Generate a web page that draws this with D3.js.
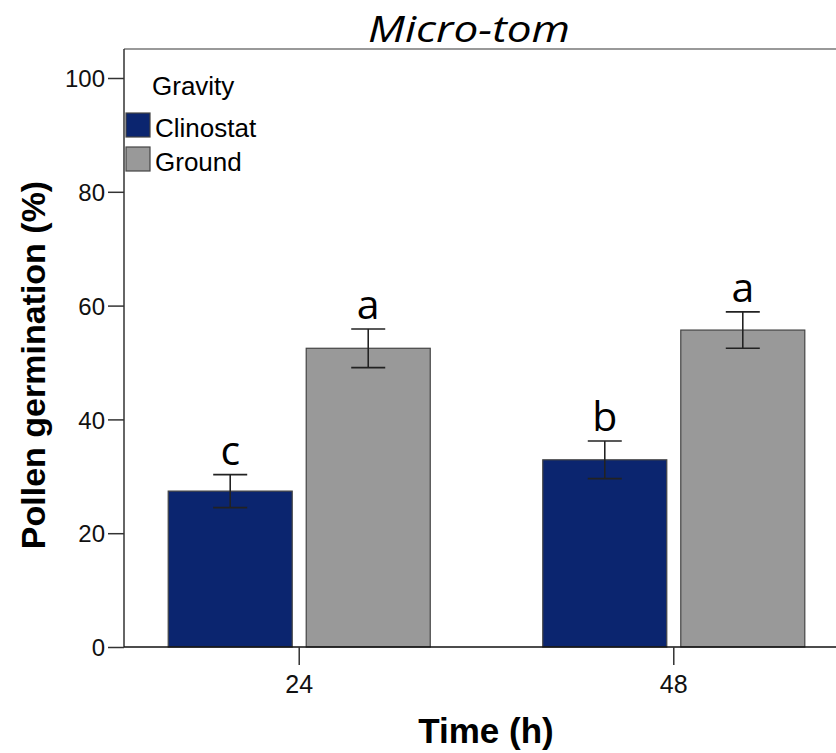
<!DOCTYPE html>
<html>
<head>
<meta charset="utf-8">
<script src="https://cdn.jsdelivr.net/npm/d3@7"></script>
<style>
  body { margin: 0; background: #fff; }
  svg { display: block; }
</style>
</head>
<body>
<div id="chart"></div>
<script>
// data
var times = ["24", "48"];
var groups = ["Clinostat", "Ground"];
var clinostat = [27.4, 32.9];
var ground = [52.5, 55.7];
var clinostatErr = [2.9, 3.3];
var groundErr = [3.4, 3.2];
var clinostatLetters = ["c", "b"];
var groundLetters = ["a", "a"];
var yTicks = [0, 20, 40, 60, 80, 100];
var colors = { "Clinostat": "#0b256f", "Ground": "#999999" };

var width = 836, height = 753;

var data = [];
for (var i = 0; i < times.length; i++) {
  data.push({ time: times[i], group: "Clinostat", value: clinostat[i], err: clinostatErr[i], letter: clinostatLetters[i] });
  data.push({ time: times[i], group: "Ground", value: ground[i], err: groundErr[i], letter: groundLetters[i] });
}

var svg = d3.select("#chart").append("svg")
  .attr("width", width)
  .attr("height", height);

var plotLeft = 124, plotRight = 849, plotTop = 49, plotBottom = 647;

var x0 = d3.scaleBand().domain(times).range([plotLeft, plotRight])
  .paddingInner(0.3004).paddingOuter(0.118);
var x1 = d3.scaleBand().domain(groups).range([0, x0.bandwidth()])
  .paddingInner(0.1014).paddingOuter(0);
var y = d3.scaleLinear().domain([0, 100]).range([plotBottom, plotBottom - 569]);

// frame top line
svg.append("line")
  .attr("x1", plotLeft).attr("x2", width).attr("y1", plotTop).attr("y2", plotTop)
  .attr("stroke", "#777").attr("stroke-width", 1.5);

// bars
svg.selectAll(".bar")
  .data(data)
  .enter().append("rect")
  .attr("class", "bar")
  .attr("x", function (d) { return x0(d.time) + x1(d.group); })
  .attr("y", function (d) { return y(d.value); })
  .attr("width", x1.bandwidth())
  .attr("height", function (d) { return plotBottom - y(d.value); })
  .attr("fill", function (d) { return colors[d.group]; })
  .attr("stroke", "#444")
  .attr("stroke-width", 1.2);

// error bars
var capHalf = 17;
function cx(d) { return x0(d.time) + x1(d.group) + x1.bandwidth() / 2; }
var eb = svg.selectAll(".err").data(data).enter().append("g").attr("class", "err")
  .attr("stroke", "#222").attr("stroke-width", 1.6);
eb.append("line")
  .attr("x1", cx).attr("x2", cx)
  .attr("y1", function (d) { return y(d.value + d.err); })
  .attr("y2", function (d) { return y(d.value - d.err); });
eb.append("line")
  .attr("x1", function (d) { return cx(d) - capHalf; })
  .attr("x2", function (d) { return cx(d) + capHalf; })
  .attr("y1", function (d) { return y(d.value + d.err); })
  .attr("y2", function (d) { return y(d.value + d.err); });
eb.append("line")
  .attr("x1", function (d) { return cx(d) - capHalf; })
  .attr("x2", function (d) { return cx(d) + capHalf; })
  .attr("y1", function (d) { return y(d.value - d.err); })
  .attr("y2", function (d) { return y(d.value - d.err); });

// significance letters
svg.selectAll(".letter").data(data).enter().append("text")
  .attr("class", "letter")
  .attr("x", cx)
  .attr("y", function (d) { return y(d.value + d.err) - 10; })
  .attr("text-anchor", "middle")
  .style("font-family", "'Open Sans', sans-serif")
  .style("font-size", "41px")
  .style("fill", "#000")
  .text(function (d) { return d.letter; });

// y axis
var yAxis = svg.append("g")
  .attr("transform", "translate(" + plotLeft + ",0)")
  .call(d3.axisLeft(y).tickValues(yTicks).tickSize(16).tickPadding(3).tickSizeOuter(0));
yAxis.select(".domain").attr("d", "M0," + plotBottom + "V" + plotTop).attr("stroke", "#333").attr("stroke-width", 1.5);
yAxis.selectAll(".tick line").attr("stroke", "#333").attr("stroke-width", 1.5);
yAxis.selectAll("text")
  .style("font-family", "'Liberation Sans', Arial, sans-serif")
  .style("font-size", "24px")
  .attr("fill", "#111")
  .attr("dy", "0.36em");

// x axis
var xAxis = svg.append("g")
  .attr("transform", "translate(0," + plotBottom + ")")
  .call(d3.axisBottom(x0).tickSize(18).tickPadding(10).tickSizeOuter(0));
xAxis.select(".domain").attr("d", "M" + plotLeft + ",0H" + width).attr("stroke", "#111").attr("stroke-width", 1.5);
xAxis.selectAll(".tick line").attr("stroke", "#333").attr("stroke-width", 1.5);
xAxis.selectAll("text")
  .style("font-family", "'Liberation Sans', Arial, sans-serif")
  .style("font-size", "25px")
  .attr("fill", "#111");

// title
svg.append("text")
  .attr("x", 469).attr("y", 42)
  .attr("text-anchor", "middle")
  .attr("textLength", 202)
  .attr("lengthAdjust", "spacingAndGlyphs")
  .style("font-family", "'Open Sans', sans-serif")
  .style("font-style", "italic")
  .style("font-size", "37px")
  .text("Micro-tom");

// axis titles
svg.append("text")
  .attr("x", 486).attr("y", 743)
  .attr("text-anchor", "middle")
  .style("font-family", "'Liberation Sans', Arial, sans-serif")
  .style("font-weight", "bold")
  .style("font-size", "35px")
  .text("Time (h)");

svg.append("text")
  .attr("transform", "translate(45,365) rotate(-90)")
  .attr("text-anchor", "middle")
  .style("font-family", "'Liberation Sans', Arial, sans-serif")
  .style("font-weight", "bold")
  .style("font-size", "34px")
  .text("Pollen germination (%)");

// legend
var legend = svg.append("g");
legend.append("text")
  .attr("x", 152).attr("y", 95)
  .style("font-family", "'Liberation Sans', Arial, sans-serif")
  .style("font-size", "26px")
  .text("Gravity");
var items = legend.selectAll(".item").data(groups).enter().append("g")
  .attr("transform", function (d, i) { return "translate(126," + (113 + i * 34) + ")"; });
items.append("rect")
  .attr("width", 24).attr("height", 24)
  .attr("fill", function (d) { return colors[d]; })
  .attr("stroke", "#444").attr("stroke-width", 1.2);
items.append("text")
  .attr("x", 29).attr("y", 24)
  .style("font-family", "'Liberation Sans', Arial, sans-serif")
  .style("font-size", "26px")
  .text(function (d) { return d; });
</script>
</body>
</html>
